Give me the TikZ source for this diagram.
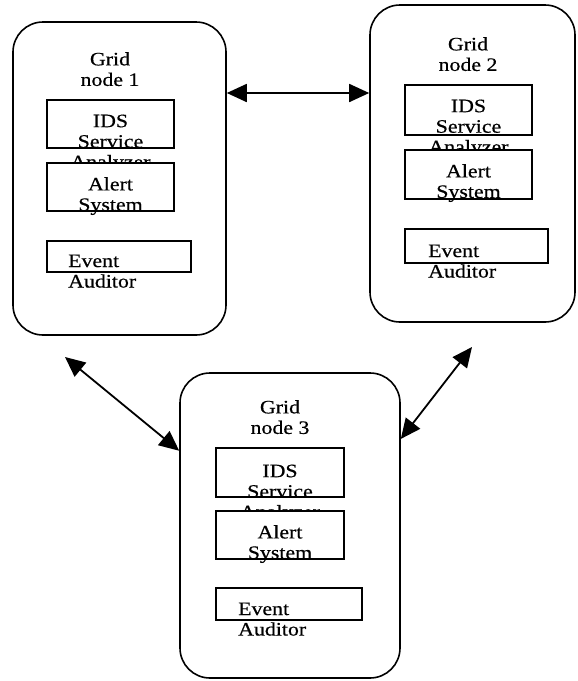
\documentclass[tikz,border=0pt]{standalone}
\usepackage{fontspec}
\setmainfont{Liberation Serif}[FakeStretch=1.15,FakeBold=0.5]
\usetikzlibrary{arrows.meta}

\begin{document}
\begin{tikzpicture}[x=1pt,y=-1pt]
\tikzstyle{outer}=[draw,line width=1.6pt,rounded corners=30pt,fill=white,inner sep=0pt];
\tikzstyle{box}=[draw,line width=1.9pt,fill=white,inner sep=0pt,minimum width=127pt,minimum height=48pt];
\tikzstyle{txt}=[inner sep=0pt,anchor=north,align=center,font=\fontsize{19}{20.5}\selectfont];
\tikzstyle{ltxt}=[txt,anchor=north west,align=left];
\tikzstyle{arrow}=[{Triangle[length=20pt,width=18pt]}-{Triangle[length=20pt,width=18pt]},line width=1.8pt];
\useasboundingbox (0,0) rectangle (578,681);
% the three grid nodes
\node (n1) [outer,minimum width=213pt,minimum height=313pt] at (119.5,178.5) {};
\node (n2) [outer,minimum width=205pt,minimum height=317pt] at (472.5,163.5) {};
\node (n3) [outer,minimum width=220pt,minimum height=305pt] at (290,525.5) {};
\coordinate (m) at (0,93);
\coordinate (e1) at (65,357);
\coordinate (e2) at (472,347);
\draw [arrow] (n1.east |- m) -- (n2.west |- m);
\draw [arrow] (e1) -- (n3.146.3);
\draw [arrow] (e2) -- (n3.38.8);
% grid node 1
\node (t1) [txt] at (110,52) {Grid\\node 1};
\node (ids1) [box] at (110.5,124) {};
\node [txt] at (110.5,114.4) {IDS\\Service\\Analyzer};
\node (al1) [box] at (110.5,187) {};
\node [txt] at (110.5,177) {Alert\\System};
\node (ev1) [box,minimum width=144pt,minimum height=31pt] at (119,256.5) {};
\node [ltxt] at (68,254.4) {Event\\Auditor};
% grid node 2
\node (t2) [txt] at (468,37) {Grid\\node 2};
\node (ids2) [box,minimum height=50pt] at (468.5,110) {};
\node [txt] at (468.5,99.4) {IDS\\Service\\Analyzer};
\node (al2) [box,minimum height=49pt] at (468.5,174.5) {};
\node [txt] at (468.5,164) {Alert\\System};
\node (ev2) [box,minimum width=143pt,minimum height=34pt] at (476.5,246) {};
\node [ltxt] at (428,244.4) {Event\\Auditor};
% grid node 3
\node (t3) [txt] at (280,400) {Grid\\node 3};
\node (ids3) [box,minimum width=128pt,minimum height=49pt] at (280,472.5) {};
\node [txt] at (280,464.4) {IDS\\Service\\Analyzer};
\node (al3) [box,minimum width=128pt] at (280,535) {};
\node [txt] at (280,525) {Alert\\System};
\node (ev3) [box,minimum width=146pt,minimum height=32pt] at (289,604) {};
\node [ltxt] at (238,602.4) {Event\\Auditor};
\end{tikzpicture}
\end{document}
